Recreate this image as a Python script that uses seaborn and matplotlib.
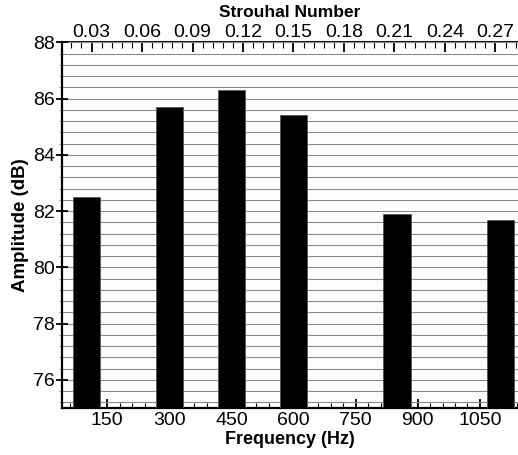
import matplotlib
matplotlib.use("Agg")
import matplotlib.pyplot as plt
from matplotlib.ticker import MultipleLocator, FixedLocator, FormatStrFormatter
import pandas as pd
import seaborn as sns

# Peak amplitudes at each measured frequency
freq_hz = [100, 300, 450, 600, 850, 1100]
amplitude_db = [82.5, 85.7, 86.3, 85.4, 81.9, 81.7]

freq_ticks = [150, 300, 450, 600, 750, 900, 1050]
strouhal_ticks = [0.03, 0.06, 0.09, 0.12, 0.15, 0.18, 0.21, 0.24, 0.27]
amp_ticks = [76, 78, 80, 82, 84, 86, 88]

sns.set_theme(style="white")
plt.rcParams["font.family"] = ["Liberation Sans", "DejaVu Sans"]
plt.rcParams.update({
    "text.color": "black",
    "axes.labelcolor": "black",
    "xtick.color": "black",
    "ytick.color": "black",
    "xtick.labelcolor": "black",
    "ytick.labelcolor": "black",
})

fig = plt.figure(figsize=(5.18, 4.55), dpi=100)
ax = fig.add_axes([62 / 518, 47 / 455, (518 - 62) / 518, (408 - 42.3) / 455])

df = pd.DataFrame({"Frequency": freq_hz, "Amplitude": amplitude_db})
sns.barplot(data=df, x="Frequency", y="Amplitude", native_scale=True,
            color="black", saturation=1, width=0.44,
            edgecolor="#555555", linewidth=0.6, ax=ax, zorder=3)

ax.set_xlim(40.6, 1142)
ax.set_ylim(75, 88)

# Horizontal grid every 0.4 dB
ax.yaxis.set_major_locator(FixedLocator(amp_ticks))
ax.yaxis.set_minor_locator(MultipleLocator(0.4))
ax.grid(which="both", axis="y", color="#8a8a8a", lw=0.8, zorder=0)
ax.grid(which="both", axis="x", visible=False)
ax.set_axisbelow(True)

ax.xaxis.set_major_locator(FixedLocator(freq_ticks))
ax.xaxis.set_minor_locator(MultipleLocator(30))

for side in ("top", "right"):
    ax.spines[side].set_visible(False)
for side in ("left", "bottom"):
    ax.spines[side].set_color("black")
    ax.spines[side].set_linewidth(1.6)

ax.tick_params(axis="x", which="major", direction="in", length=6.5, width=1.3,
               color="black", labelsize=14, pad=3, bottom=True, top=False)
ax.tick_params(axis="x", which="minor", direction="in", length=3.5, width=0.8,
               color="black", bottom=True, top=False)
ax.tick_params(axis="y", which="major", direction="inout", length=8, width=1.3,
               color="black", labelsize=14, pad=1, left=True)
ax.tick_params(axis="y", which="minor", direction="out", length=2.5, width=0.8,
               color="#9a9a9a", left=True)

ax.set_xlabel("Frequency (Hz)", fontsize=13, fontweight="bold", labelpad=1)
ax.set_ylabel("Amplitude (dB)", fontsize=13.5, fontweight="bold", labelpad=3)


# Strouhal number along the top edge
def to_strouhal(f):
    return (f + 10) / 4065


def to_freq(st):
    return st * 4065 - 10


sec = ax.secondary_xaxis("top", functions=(to_strouhal, to_freq))
sec.xaxis.set_major_locator(FixedLocator(strouhal_ticks))
sec.xaxis.set_minor_locator(MultipleLocator(0.006))
sec.xaxis.set_major_formatter(FormatStrFormatter("%.2f"))
sec.spines["top"].set_color("black")
sec.spines["top"].set_linewidth(1.3)
sec.tick_params(axis="x", which="major", direction="in", length=7, width=1.3,
                color="black", labelsize=14, pad=1)
sec.tick_params(axis="x", which="minor", direction="in", length=4, width=0.8,
                color="black")
sec.set_xlabel("Strouhal Number", fontsize=12.5, fontweight="bold", labelpad=5)

fig.savefig("out.png", dpi=100)
